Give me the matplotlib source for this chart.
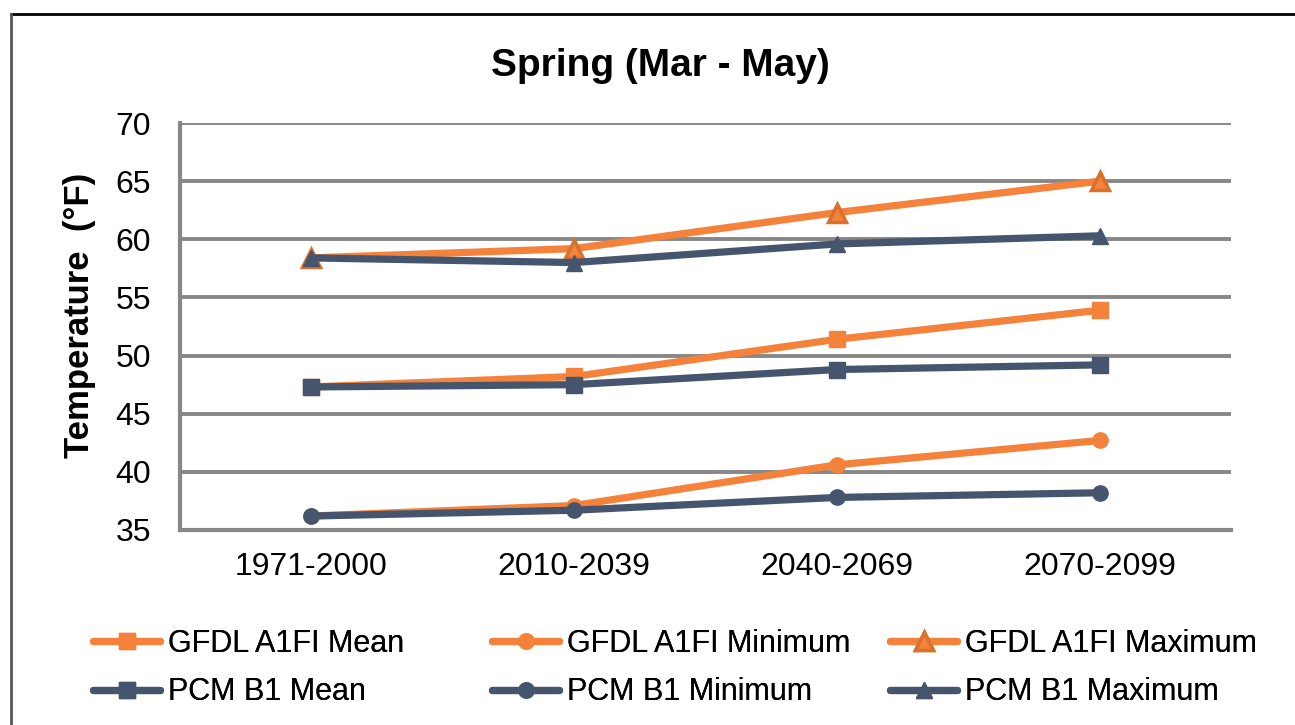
import matplotlib.pyplot as plt
from matplotlib.lines import Line2D

plt.rcParams['font.family'] = ['Liberation Sans', 'DejaVu Sans']

periods = ['1971-2000', '2010-2039', '2040-2069', '2070-2099']

gfdl_mean = [47.3, 48.2, 51.4, 53.9]
gfdl_min = [36.2, 37.1, 40.6, 42.7]
gfdl_max = [58.4, 59.2, 62.3, 65.0]
pcm_mean = [47.3, 47.5, 48.8, 49.2]
pcm_min = [36.2, 36.7, 37.8, 38.2]
pcm_max = [58.4, 58.0, 59.6, 60.3]

orange = '#F4823B'
orange_dark = '#D9702E'
slate = '#46556E'
grid_gray = '#878787'

fig = plt.figure(figsize=(12.95, 7.25), dpi=100)
ax = fig.add_axes([0.139, 0.269, 0.8115, 0.5613])

x = list(range(len(periods)))
style = dict(lw=5.2, solid_capstyle='round')

# orange drawn first so the blue series sit on top where they overlap
ax.plot(x, gfdl_mean, color=orange, marker='s', ms=11, mec=orange, label='GFDL A1FI Mean', zorder=3, **style)
ax.plot(x, gfdl_min, color=orange, marker='o', ms=11, mec=orange, label='GFDL A1FI Minimum', zorder=3, **style)
ax.plot(x, gfdl_max, color=orange, marker='^', ms=13, mfc=orange, mec=orange_dark, mew=2.5,
        label='GFDL A1FI Maximum', zorder=3, **style)
ax.plot(x, pcm_mean, color=slate, marker='s', ms=11, mec=slate, label='PCM B1 Mean', zorder=4, **style)
ax.plot(x, pcm_min, color=slate, marker='o', ms=11, mec=slate, label='PCM B1 Minimum', zorder=4, **style)
ax.plot(x, pcm_max, color=slate, marker='^', ms=11, mec=slate, label='PCM B1 Maximum', zorder=4, **style)

ax.set_xlim(-0.5, 3.5)
ax.set_ylim(35, 70)
ax.set_yticks(range(35, 71, 5))
ax.set_xticks(x)
ax.set_xticklabels(periods)
ax.tick_params(length=0, labelsize=23, pad=16)
ax.tick_params(axis='y', pad=21)
ax.yaxis.grid(True, color=grid_gray, lw=2.8, zorder=1)
ax.set_axisbelow(True)
for side in ['top', 'right']:
    ax.spines[side].set_visible(False)
for side in ['left', 'bottom']:
    ax.spines[side].set_color(grid_gray)
    ax.spines[side].set_linewidth(3)

fig.text(80 / 1295, 1 - 315 / 725, 'Temperature  (°F)', rotation=90, fontsize=25,
         fontweight='bold', ha='center', va='center')
fig.text(0.51, 1 - 66 / 725, 'Spring (Mar - May)', fontsize=28, fontweight='bold',
         ha='center', va='center')

# legend laid out as three equal-width columns (GFDL over PCM in each)
handles, labels = ax.get_legend_handles_labels()
col_x = [93, 492, 890]
for c in range(3):
    idx = [c, c + 3]
    leg = fig.legend([handles[i] for i in idx], [labels[i] for i in idx],
                     loc='center left', bbox_to_anchor=(col_x[c] / 1295, 1 - 668 / 725),
                     ncol=1, frameon=False, fontsize=22, handlelength=2.2, handletextpad=0.25,
                     labelspacing=0.62, borderpad=0, borderaxespad=0)
    fig.add_artist(leg)

# outer frame lines along top and left
fig.add_artist(Line2D([11 / 1295, 1.0], [1 - 14 / 725, 1 - 14 / 725], color='black', lw=2,
                      transform=fig.transFigure))
fig.add_artist(Line2D([11 / 1295, 11 / 1295], [0, 1 - 14 / 725], color='#555555', lw=2,
                      transform=fig.transFigure))

fig.savefig('out.png', dpi=100)
